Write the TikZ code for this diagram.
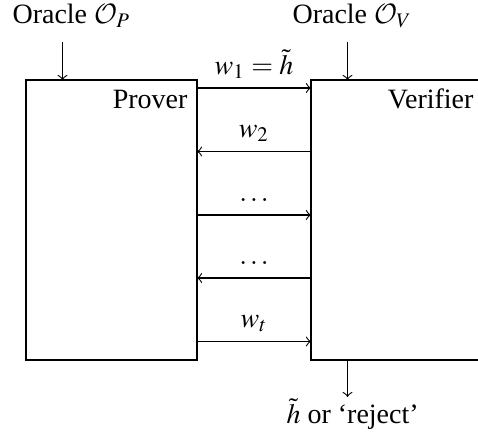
\documentclass[tikz,border=0pt]{standalone}
\usepackage{mathptmx}
\DeclareMathAlphabet{\mathcal}{OMS}{cmsy}{m}{n}
\usepackage{fontspec}
\setmainfont{Liberation Serif}
\tikzset{
  party/.style={draw, line width=0.4pt, inner sep=0pt, outer sep=0pt},
  msg/.style={->, line width=0.4pt},
  lbl/.style={inner sep=0pt, anchor=base},
}
\begin{document}
\begin{tikzpicture}[x=0.35714pt, y=-0.35714pt]
  \useasboundingbox (0,0) rectangle (478,442);
  % the two parties
  \node[party, minimum width={171*0.35714pt}, minimum height={280*0.35714pt}] (P) at (111.5,220) {};
  \node[party, minimum width={190*0.35714pt}, minimum height={280*0.35714pt}] (V) at (406,220) {};
  \node[lbl, anchor=base east] (Pn) at (188,108) {Prover};
  \node[lbl, anchor=base east] (Vn) at (474,108) {Verifier};
  % oracles
  \node[lbl, anchor=base west] (OP) at (12,23) {Oracle $\mathcal{O}_P$};
  \node[lbl, anchor=base west] (OV) at (292,23) {Oracle $\mathcal{O}_V$};
  \coordinate (opa) at (62.5,42);
  \coordinate (ova) at (347.5,42);
  \draw[msg] (opa) -- (opa |- P.north);
  \draw[msg] (ova) -- (ova |- V.north);
  % messages
  \coordinate (r1) at (0,88);
  \coordinate (r2) at (0,151.5);
  \coordinate (r3) at (0,215);
  \coordinate (r4) at (0,278);
  \coordinate (r5) at (0,341.5);
  \draw[msg] (P.east |- r1) -- (V.west |- r1) node[lbl, midway, yshift=5pt] (m1) {$w_1 = \tilde{h}$};
  \draw[msg] (V.west |- r2) -- (P.east |- r2) node[lbl, midway, yshift=5pt] (m2) {$w_2$};
  \draw[msg] (P.east |- r3) -- (V.west |- r3) node[lbl, midway, yshift=5pt] (m3) {$\dots$};
  \draw[msg] (V.west |- r4) -- (P.east |- r4) node[lbl, midway, yshift=5pt] (m4) {$\dots$};
  \draw[msg] (P.east |- r5) -- (V.west |- r5) node[lbl, midway, yshift=5pt] (m5) {$w_t$};
  % output
  \coordinate (oa) at (347.5,397);
  \draw[msg] (oa |- V.south) -- (oa);
  \node[lbl, anchor=base west] (out) at (286,423) {$\tilde{h}$ or `reject'};
\end{tikzpicture}
\end{document}
